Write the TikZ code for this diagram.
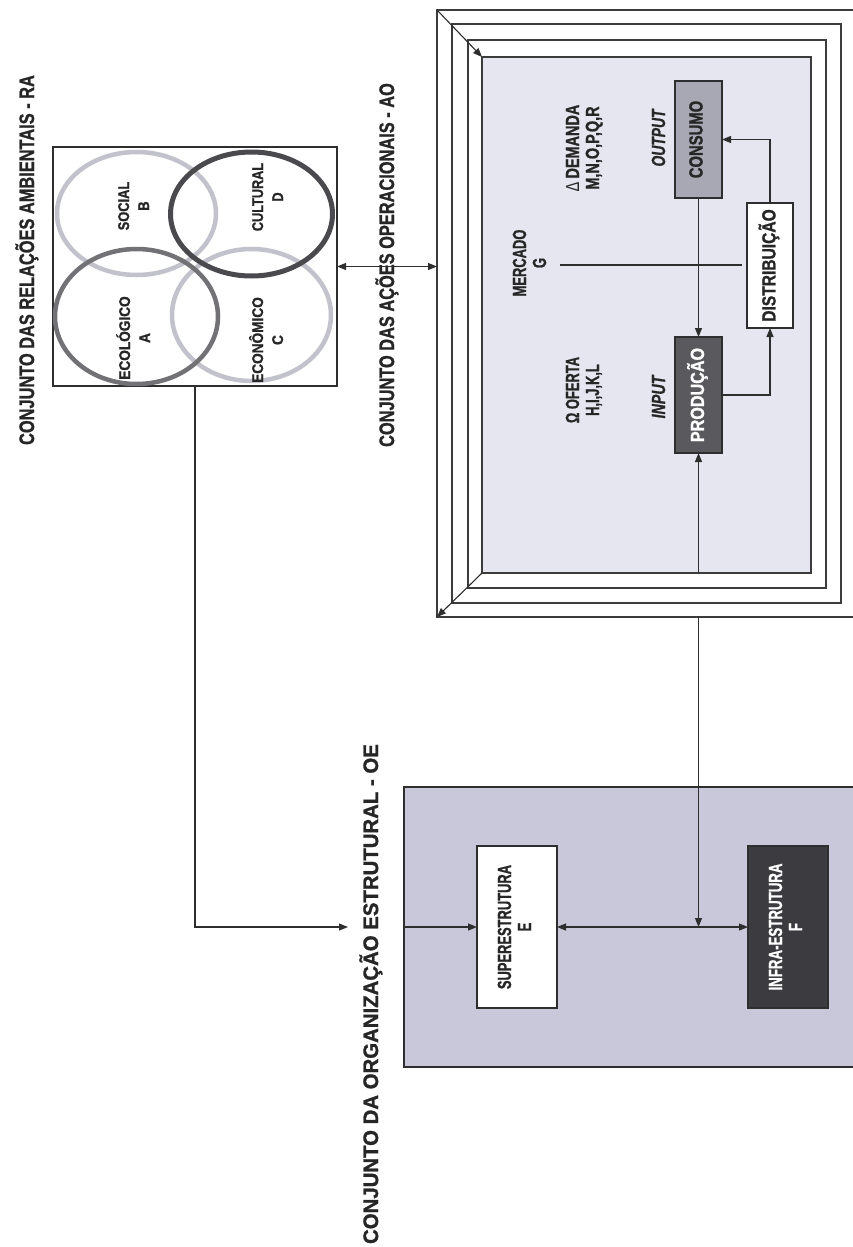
\documentclass[tikz,border=0pt]{standalone}
\usepackage{fontspec}
\usepackage{graphicx}
\usetikzlibrary{arrows.meta}
\newfontfamily\lsans{Liberation Sans}[BoldFeatures={FakeBold=1.2}, BoldItalicFeatures={FakeBold=1.2}]
\definecolor{aofill}{HTML}{E6E6F0}
\definecolor{oefill}{HTML}{C8C8DA}
\definecolor{consfill}{HTML}{A8A8B4}
\definecolor{prodfill}{HTML}{5A5A5E}
\definecolor{infrafill}{HTML}{3C3C40}
\definecolor{circdark}{HTML}{4A4A4E}
\definecolor{circmid}{HTML}{727276}
\definecolor{circlight}{HTML}{C2C2CC}
\definecolor{linec}{HTML}{2E2E2E}
\definecolor{framec}{HTML}{3C3C3C}
\newcommand{\rt}[2][1]{\rotatebox{90}{\scalebox{#1}[1]{\begin{tabular}{@{}c@{}}#2\end{tabular}}}}
\begin{document}
\begin{tikzpicture}[x=1pt,y=-1pt,
  every node/.style={inner sep=0pt, outer sep=0pt},
  ln/.style={draw=linec, line width=1.1pt},
  arr/.style={ln, -{Triangle[length=9pt,width=7pt]}},
  darr/.style={ln, {Triangle[length=9pt,width=7pt]}-{Triangle[length=9pt,width=7pt]}},
  frame/.style={draw=framec, line width=1.4pt},
  boxs/.style={draw=linec, line width=1.1pt},
  ttl/.style={font=\lsans\bfseries\fontsize{21}{22}\selectfont, text=black!85},
  lab/.style={font=\lsans\bfseries\fontsize{19}{20}\selectfont, text=black!85},
  clab/.style={font=\lsans\bfseries\fontsize{15.5}{20}\selectfont, text=black!85},
  ilab/.style={font=\lsans\bfseries\itshape\fontsize{19}{20}\selectfont, text=black!85}
]
\path[use as bounding box, clip] (0,0) rectangle (853,1247);
\fill[white] (0,0) rectangle (853,1247);

% ---------- RA ----------
\node[ttl] (ratitle) at (28,260) {\rt[0.78]{CONJUNTO DAS RELAÇÕES AMBIENTAIS - RA}};
\node[boxs, minimum width=284pt, minimum height=239pt] (ra) at (195,266.5) {};
\draw[circlight, line width=4.5pt] (136.5,213.5) ellipse [x radius=79.5pt, y radius=61.5pt];
\draw[circlight, line width=4.5pt] (251.5,315) ellipse [x radius=79.5pt, y radius=66pt];
\draw[circmid, line width=4.5pt] (136.5,316.5) ellipse [x radius=81.5pt, y radius=67.5pt];
\draw[circdark, line width=5pt] (251.5,214) ellipse [x radius=81pt, y radius=62pt];
\node[clab] (social) at (135,206) {\rt[0.83]{SOCIAL\\B}};
\node[clab] (cultural) at (269,197) {\rt[0.82]{CULTURAL\\D}};
\node[clab] (ecologico) at (136,338) {\rt[0.88]{ECOLÓGICO\\A}};
\node[clab] (economico) at (269,340) {\rt[0.88]{ECONÔMICO\\C}};

% ---------- AO frame ----------
\node[frame, minimum width=433pt, minimum height=607pt] (aoout) at (653.5,313.5) {};
\node[frame, minimum width=389pt, minimum height=579pt] (ao2) at (646.5,313.5) {};
\node[frame, minimum width=358pt, minimum height=548pt] (ao3) at (647,314) {};
\node[frame, fill=aofill, minimum width=329pt, minimum height=516pt] (aoin) at (646.5,315) {};
\draw[arr] (aoout.north west) -- (aoin.north west);
\draw[arr] (aoin.south west) -- (aoout.south west);

\node[ttl, fill=white, inner sep=1.5pt] (aotitle) at (388,265) {\rt[0.78]{CONJUNTO DAS AÇÕES OPERACIONAIS - AO}};
\draw[darr] (ra.east) -- (aoout.west |- ra.east);

\node[lab] (oferta) at (585,390) {\rt[0.68]{Ω OFERTA\\H,I,J,K,L}};
\node[lab] (mercado) at (532,263) {\rt[0.68]{MERCADO\\G}};
\node[lab] (demanda) at (585,148) {\rt[0.76]{{\mdseries ∆} DEMANDA\\M,N,O,P,Q,R}};
\node[ilab] (input) at (661,397) {\rt[0.75]{INPUT}};
\node[ilab] (output) at (661,138) {\rt[0.73]{OUTPUT}};

\node[boxs, fill=prodfill, text=white, font=\lsans\bfseries\fontsize{19}{20}\selectfont, minimum width=47pt, minimum height=116pt] (prod) at (698.5,395) {\rt[0.85]{PRODUÇÃO}};
\node[boxs, fill=consfill, text=black!85, font=\lsans\bfseries\fontsize{19}{20}\selectfont, minimum width=47pt, minimum height=117pt] (cons) at (698.5,139.5) {\rt[0.78]{CONSUMO}};
\node[boxs, fill=white, text=black!85, font=\lsans\bfseries\fontsize{19}{20}\selectfont, minimum width=46pt, minimum height=125pt] (dist) at (770,265.5) {\rt[0.82]{DISTRIBUIÇÃO}};

\coordinate (m1) at (560,265);
\coordinate (m2) at (742,265);
\draw[ln] (m1) -- (m2);
\draw[arr] (cons.south) -- (prod.north);
\draw[arr] (prod.east) -| (dist.south);
\draw[arr] (dist.north) |- (cons.east);
\draw[arr] (aoin.south -| prod.south) -- (prod.south);

% ---------- OE ----------
\node[boxs, fill=oefill, minimum width=466pt, minimum height=280pt] (oe) at (637,927) {};
\node[ttl] (oetitle) at (372,994) {\rt[0.97]{CONJUNTO DA ORGANIZAÇÃO ESTRUTURAL - OE}};
\node[boxs, fill=white, text=black!85, font=\lsans\bfseries\fontsize{19}{20}\selectfont, minimum width=80pt, minimum height=162pt] (sup) at (517,927) {\rt[0.68]{SUPERESTRUTURA\\E}};
\node[boxs, fill=infrafill, text=white, font=\lsans\bfseries\fontsize{19}{20}\selectfont, minimum width=80pt, minimum height=162pt] (infra) at (788,927) {\rt[0.7]{INFRA-ESTRUTURA\\F}};

\coordinate (oein) at (348,927);
\draw[arr] (ra.south) |- (oein);
\draw[arr] (oe.west) -- (sup.west);
\draw[darr] (sup.east) -- (infra.west);
\draw[arr] (aoout.south -| prod.south) -- (prod.south |- sup.east);
\end{tikzpicture}
\end{document}
